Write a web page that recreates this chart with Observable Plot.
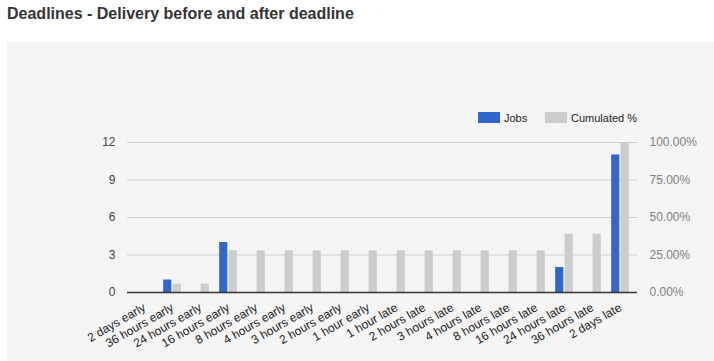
<!DOCTYPE html>
<html><head><meta charset="utf-8">
<script src="https://cdn.jsdelivr.net/npm/d3@7"></script>
<script src="https://cdn.jsdelivr.net/npm/@observablehq/plot@0.6"></script>
<style>
body{margin:0;background:#fff;font-family:"Liberation Sans",Arial,sans-serif;}
#title{position:absolute;left:7px;top:5px;font-size:16px;font-weight:bold;color:#333;white-space:nowrap;}
#panel{position:absolute;left:7px;top:42px;width:707px;height:319px;background:#f4f4f4;}
#chart{position:absolute;left:0;top:0;}
.lg{position:absolute;top:70px;height:11px;display:flex;align-items:center;font-size:11px;color:#222;}
.sw{width:22px;height:11px;margin-right:4px;}
</style></head>
<body>
<div id="title">Deadlines - Delivery before and after deadline</div>
<div id="panel">
  <div id="chart"></div>
  <div class="lg" style="left:471px"><div class="sw" style="background:#3366cc"></div>Jobs</div>
  <div class="lg" style="left:538px"><div class="sw" style="background:#cccccc"></div>Cumulated %</div>
</div>
<script>
const categories = ["2 days early","36 hours early","24 hours early","16 hours early","8 hours early","4 hours early","3 hours early","2 hours early","1 hour early","1 hour late","2 hours late","3 hours late","4 hours late","8 hours late","16 hours late","24 hours late","36 hours late","2 days late"];
const jobs = [0,1,0,4,0,0,0,0,0,0,0,0,0,0,0,2,0,11];
const cumulatedPct = [0,5.56,5.56,27.78,27.78,27.78,27.78,27.78,27.78,27.78,27.78,27.78,27.78,27.78,27.78,38.89,38.89,100];
const leftTicks = [0,3,6,9,12];
const rightTicks = [0,25,50,75,100];
const yMax = 12;

const data = categories.map((c,i)=>({cat:c, jobs:jobs[i], pct:cumulatedPct[i]}));
const bw = 509.2/18;
const half = bw/2;

const chart = Plot.plot({
  width: 707, height: 319,
  marginTop: 100, marginBottom: 69, marginLeft: 120, marginRight: 77,
  style: {background:"transparent", fontFamily:"'Liberation Sans', Arial, sans-serif", fontSize:"12px"},
  x: {domain: categories, padding: 0, label: null},
  y: {domain: [0, yMax], label: null},
  marks: [
    Plot.ruleY(leftTicks.filter(d=>d>0), {stroke:"#cccccc", strokeWidth:1}),
    Plot.barY(data, {x:"cat", y:"jobs", fill:"#3366cc", insetLeft: half-9, insetRight: half+0.5}),
    Plot.barY(data, {x:"cat", y: d => d.pct/100*yMax, fill:"#cccccc", insetLeft: half+0.5, insetRight: half-9}),
    Plot.ruleY([0], {stroke:"#333", strokeWidth:1.5}),
    Plot.axisY({anchor:"left", ticks: leftTicks, tickSize:0, tickPadding:12, fill:"#444", label:null}),
    Plot.axisY({anchor:"right", ticks: rightTicks.map(p=>p/100*yMax), tickFormat: v => (v/yMax*100).toFixed(2)+"%", tickSize:0, tickPadding:12, fill:"#808080", label:null}),
    Plot.axisX({tickRotate:-30, tickSize:0, tickPadding:14, fill:"#222", label:null})
  ]
});
document.getElementById("chart").appendChild(chart);
</script>
</body></html>
